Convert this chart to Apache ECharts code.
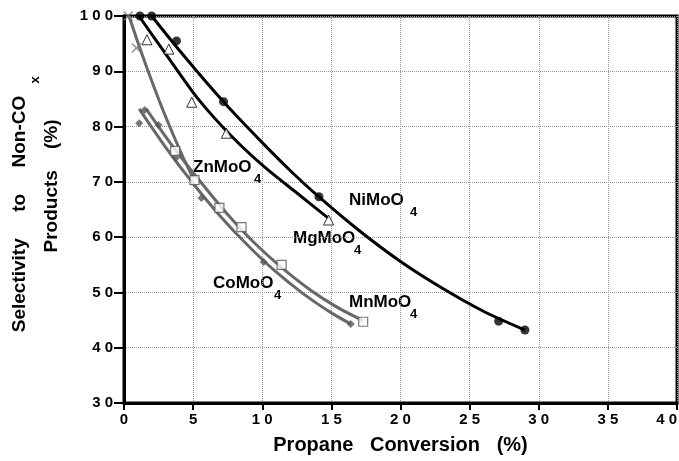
<!DOCTYPE html>
<html>
<head>
<meta charset="utf-8">
<script src="https://cdn.jsdelivr.net/npm/echarts@6/dist/echarts.min.js"></script>
<style>
  html, body { margin: 0; padding: 0; background: #fff; }
  #chart { width: 679px; height: 461px; }
</style>
</head>
<body>
<div id="chart"></div>
<script>
// fitted curves
var niCurve = [[2.0, 100], [4, 93.8], [6, 87.9], [8, 82.3], [10, 77.1], [12, 72.1], [14, 67.5], [17, 61.2], [20, 55.6], [23, 50.8], [26, 46.6], [29.0, 43.2]]
var mgCurve = [[1.08, 100], [3, 93.2], [5.3, 85.2], [7.8, 78.2], [10.2, 72.6], [12.6, 67.8], [14.8, 63.4]]
var znCurve = [[0.36, 100], [1.2, 93.8], [2.0, 88.3], [2.8, 83.1], [3.6, 78.3], [4.3, 74.3], [5.0, 70.7]]
var coCurve = [[1.1, 83.2], [3, 76.3], [5, 69.7], [7, 63.7], [9, 58.4], [11, 53.7], [13, 49.7], [15, 46.3], [16.4, 44.3]]
var mnCurve = [[1.6, 83.2], [3.5, 76.5], [5.5, 70.1], [7.5, 64.1], [9.5, 58.8], [11.5, 54.3], [13.5, 50.4], [15.5, 47.2], [17.3, 44.9]]

// measured points
var niPoints = [[1.15, 100], [2.0, 100], [3.8, 95.5], [7.2, 84.5], [14.1, 67.3], [27.1, 44.8], [29.0, 43.2]]
var mgPoints = [[1.66, 95.7], [3.24, 94.0], [4.9, 84.4], [7.4, 78.8], [14.8, 63.1]]
var znPoints = [[0.3, 100], [0.9, 94.2]]
var coPoints = [[1.1, 80.6], [1.5, 83.0], [2.5, 80.3], [3.75, 74.3], [5.6, 67.1], [10.1, 55.5], [16.4, 44.3]]
var mnPoints = [[3.7, 75.6], [5.1, 70.3], [6.9, 65.3], [8.5, 61.8], [11.4, 55.0], [17.3, 44.7]]

var xTicks = [0, 5, 10, 15, 20, 25, 30, 35, 40]
var yTicks = [30, 40, 50, 60, 70, 80, 90, 100]

var grey = '#686868'
var font = 'Liberation Sans, Arial, sans-serif'
var crossPath = 'path://M0,1L1,0L5,4L9,0L10,1L6,5L10,9L9,10L5,6L1,10L0,9L4,5Z'

function spaced(v) {
  return String(v).split('').join(' ')
}

function curve(data, color) {
  return {
    type: 'line',
    data: data,
    smooth: 0.3,
    symbol: 'none',
    lineStyle: { color: color, width: 3 },
    silent: true,
    z: color === grey ? 2 : 3
  }
}

function label(text, x, y) {
  return [
    { type: 'text', x: x, y: y, style: { text: text, font: 'bold 17px ' + font, fill: '#000', textVerticalAlign: 'middle' } },
    { type: 'text', x: x + text.length * 12.2, y: y + 12, style: { text: '4', font: 'bold 13px ' + font, fill: '#000', textVerticalAlign: 'middle' } }
  ]
}

var chart = echarts.init(document.getElementById('chart'))
chart.setOption({
  animation: false,
  grid: {
    left: 124, right: 2, top: 16, bottom: 58,
    outerBoundsMode: 'none',
    containLabel: false,
    show: true, borderColor: '#000', borderWidth: 3
  },
  xAxis: {
    type: 'value',
    min: xTicks[0],
    max: xTicks[xTicks.length - 1],
    interval: 5,
    name: 'Propane   Conversion   (%)',
    nameLocation: 'middle',
    nameGap: 32,
    nameTextStyle: { fontFamily: font, fontWeight: 'bold', fontSize: 20, color: '#000' },
    axisLine: { lineStyle: { color: '#000', width: 3 } },
    axisTick: { length: 7, lineStyle: { color: '#000', width: 2 } },
    axisLabel: { formatter: spaced, fontFamily: font, fontWeight: 'bold', fontSize: 15, color: '#000', margin: 9, alignMaxLabel: 'right' },
    splitLine: { show: true, lineStyle: { type: 'dotted', color: '#999', width: 1 } }
  },
  yAxis: {
    type: 'value',
    min: yTicks[0],
    max: yTicks[yTicks.length - 1],
    interval: 10,
    axisLine: { lineStyle: { color: '#000', width: 3 } },
    axisTick: { length: 10, lineStyle: { color: '#000', width: 2 } },
    axisLabel: { formatter: spaced, fontFamily: font, fontWeight: 'bold', fontSize: 15, color: '#000', margin: 11 },
    splitLine: { show: true, lineStyle: { type: 'dotted', color: '#999', width: 1 } }
  },
  graphic: [
    { type: 'text', x: 20, y: 214, rotation: Math.PI / 2,
      style: { text: 'Selectivity     to     Non-CO', font: 'bold 19px ' + font, fill: '#000', textAlign: 'center', textVerticalAlign: 'middle' } },
    { type: 'text', x: 35, y: 80, rotation: Math.PI / 2,
      style: { text: 'x', font: 'bold 13px ' + font, fill: '#000', textAlign: 'center', textVerticalAlign: 'middle' } },
    { type: 'text', x: 52, y: 186, rotation: Math.PI / 2,
      style: { text: 'Products    (%)', font: 'bold 19px ' + font, fill: '#000', textAlign: 'center', textVerticalAlign: 'middle' } }
  ].concat(
    label('NiMoO', 349, 200),
    label('MgMoO', 293, 238),
    label('CoMoO', 213, 283),
    label('MnMoO', 349, 302),
    label('ZnMoO', 193, 167)
  ),
  series: [
    curve(znCurve, grey),
    curve(coCurve, grey),
    curve(mnCurve, grey),
    curve(mgCurve, '#000'),
    curve(niCurve, '#000'),
    { type: 'scatter', data: niPoints, symbol: 'circle', symbolSize: 9, itemStyle: { color: '#000' }, z: 5 },
    { type: 'scatter', data: mgPoints, symbol: 'triangle', symbolSize: 10, itemStyle: { color: '#fff', borderColor: '#000', borderWidth: 1 }, z: 5 },
    { type: 'scatter', data: znPoints, symbol: crossPath, symbolSize: 10, itemStyle: { color: '#777' }, z: 5 },
    { type: 'scatter', data: coPoints, symbol: 'diamond', symbolSize: 8, itemStyle: { color: '#555' }, z: 5 },
    { type: 'scatter', data: mnPoints, symbol: 'rect', symbolSize: 9, itemStyle: { color: '#fff', borderColor: '#555', borderWidth: 1.2 }, z: 5 }
  ]
})
</script>
</body>
</html>
